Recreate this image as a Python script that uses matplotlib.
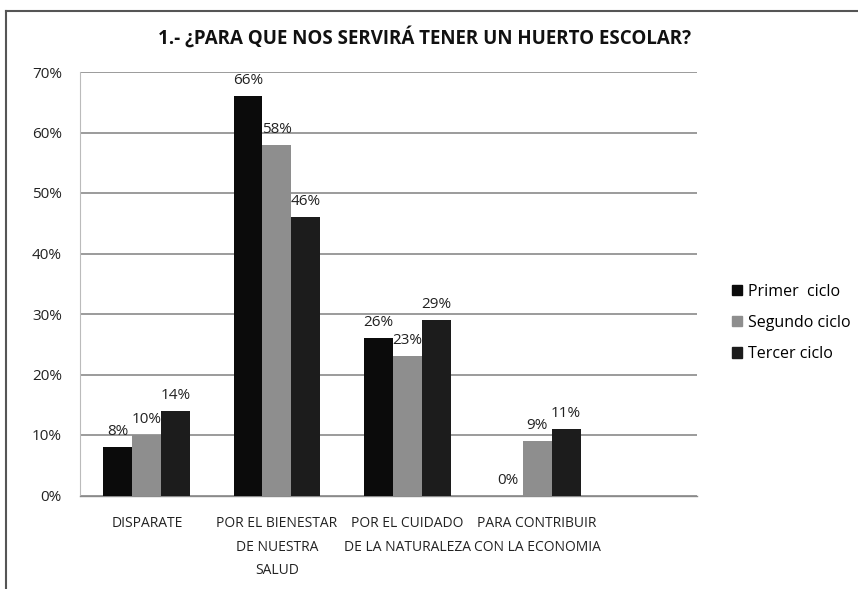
import matplotlib
matplotlib.use("Agg")
import matplotlib.pyplot as plt
import numpy as np
from matplotlib.lines import Line2D

categories = ["DISPARATE", "POR EL BIENESTAR\nDE NUESTRA\nSALUD",
              "POR EL CUIDADO\nDE LA NATURALEZA", "PARA CONTRIBUIR\nCON LA ECONOMIA"]
series_names = ["Primer  ciclo", "Segundo ciclo", "Tercer ciclo"]
primer = [8, 66, 26, 0]
segundo = [10, 58, 23, 9]
tercer = [14, 46, 29, 11]
yticks = [0, 10, 20, 30, 40, 50, 60, 70]
title = "1.- ¿PARA QUE NOS SERVIRÁ TENER UN HUERTO ESCOLAR?"

colors = ["#0b0b0b", "#8e8e8e", "#1c1c1c"]
font = ["Open Sans", "DejaVu Sans"]

W, H = 858, 589
fig = plt.figure(figsize=(W / 100, H / 100), dpi=100)
left, right, top, bottom = 80, 697, 72, 495.5
ax = fig.add_axes([left / W, 1 - bottom / H, (right - left) / W, (bottom - top) / H])

x = np.arange(len(categories))
bw = 0.223
for i, (vals, c) in enumerate(zip([primer, segundo, tercer], colors)):
    pos = x + (i - 1) * bw
    ax.bar(pos, vals, width=bw, color=c, zorder=3, label=series_names[i])
    for p, v in zip(pos, vals):
        ax.text(p, v + 1.3, f"{v}%", ha="center", va="bottom", fontsize=11,
                family=font, color="#222222", zorder=4)

ax.set_ylim(0, 70)
ax.set_xlim(-0.515, 4.23)
ax.set_yticks(yticks)
ax.set_yticklabels([f"{v}%" for v in yticks], fontsize=11, family=font, color="#222222")
ax.yaxis.grid(True, color="#8a8a8a", linewidth=1.2, zorder=0)
ax.set_axisbelow(True)
ax.set_xticks(x)
ax.set_xticklabels(categories, fontsize=10, family=font, color="#222222", linespacing=1.75)
ax.tick_params(axis="x", length=0, pad=15)
ax.tick_params(axis="y", length=0, pad=13)
for s in ["top", "right"]:
    ax.spines[s].set_visible(False)
ax.spines["left"].set_color("#bbbbbb")
ax.spines["bottom"].set_color("#8a8a8a")
ax.spines["bottom"].set_linewidth(1.0)

fig.text(425 / W, 1 - 38 / H, title, ha="center", va="center", fontsize=13.5,
         fontweight="bold", family=font, color="#111111")

handles = [plt.Rectangle((0, 0), 1, 1, color=c) for c in colors]
leg = fig.legend(handles, series_names, loc="center left",
                 bbox_to_anchor=(718 / W, 1 - 323 / H), frameon=False,
                 prop={"family": font[0], "size": 11.5}, handlelength=0.6,
                 handleheight=0.6, handletextpad=0.35, labelspacing=0.95)

# partial outer border (top and left)
fig.add_artist(Line2D([6 / W, 1.0], [1 - 11 / H, 1 - 11 / H], color="#555555", lw=1.5,
                      transform=fig.transFigure))
fig.add_artist(Line2D([6 / W, 6 / W], [1 - 11 / H, 0.0], color="#555555", lw=1.5,
                      transform=fig.transFigure))

fig.savefig("out.png", dpi=100)
